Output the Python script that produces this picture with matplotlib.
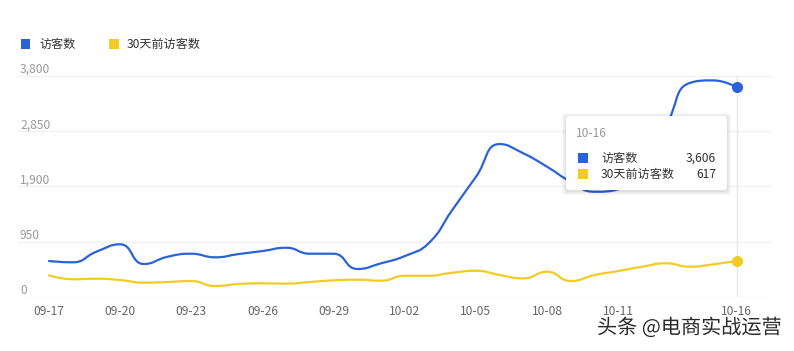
import numpy as np
import matplotlib
matplotlib.use("Agg")
import matplotlib.pyplot as plt
from matplotlib.path import Path
from matplotlib.patches import PathPatch, Rectangle, FancyBboxPatch
import matplotlib.transforms as mtransforms
import matplotlib.patheffects as pe

plt.rcParams['font.family'] = ['Noto Sans CJK SC', 'DejaVu Sans']

# data
dates = ['09-17', '09-18', '09-19', '09-20', '09-21', '09-22', '09-23', '09-24',
         '09-25', '09-26', '09-27', '09-28', '09-29', '09-30', '10-01', '10-02',
         '10-03', '10-04', '10-05', '10-06', '10-07', '10-08', '10-09', '10-10',
         '10-11', '10-12', '10-13', '10-14', '10-15', '10-16']
visitors = [614, 592, 775, 902, 563, 688, 740, 678, 735, 786, 843, 740, 740, 477, 575,
            700, 919, 1492, 2065, 2628, 2468, 2237, 1979, 1807, 1850, 2400, 2950, 3678,
            3724, 3606]
visitors_30d = [368, 300, 310, 287, 241, 253, 270, 184, 219, 230, 225, 253, 282, 293, 275,
                361, 361, 413, 447, 373, 316, 430, 270, 373, 442, 516, 575, 516, 557, 617]
tick_dates = ['09-17', '09-20', '09-23', '09-26', '09-29', '10-02', '10-05', '10-08',
              '10-11', '10-16']
y_ticks = [0, 950, 1900, 2850, 3800]
series_names = ['访客数', '30天前访客数']

BLUE = '#2a62d8'
YELLOW = '#f2cc24'
W, H = 794, 351
STEP = 23.72            # px per day
YPX = 55.2 / 950        # px per visitor


def fx(px):
    return px / W


def fy(py):
    return 1 - py / H


def clamp(v, a, b):
    return min(max(v, min(a, b)), max(a, b))


def smooth_path(xs, ys, smooth=0.5):
    """Bezier path with clamped control points, computed in pixel-like units."""
    pts = [(x * STEP, y * YPX) for x, y in zip(xs, ys)]
    n = len(pts)
    verts = [pts[0]]
    codes = [Path.MOVETO]
    cp0 = pts[0]
    for i in range(1, n):
        x, y = pts[i]
        if i == n - 1:
            verts += [cp0, (x, y), (x, y)]
            codes += [Path.CURVE4] * 3
            break
        px, py = pts[i - 1]
        nx, ny = pts[i + 1]
        vx, vy = nx - px, ny - py
        len_prev = np.hypot(x - px, y - py)
        len_next = np.hypot(nx - x, ny - y)
        ratio = len_next / (len_next + len_prev)
        c1x = clamp(x + vx * smooth * ratio, nx, x)
        c1y = clamp(y + vy * smooth * ratio, ny, y)
        vx, vy = c1x - x, c1y - y
        c0x = clamp(x - vx * len_prev / len_next, px, x)
        c0y = clamp(y - vy * len_prev / len_next, py, y)
        vx, vy = x - c0x, y - c0y
        c1x = x + vx * len_next / len_prev
        c1y = y + vy * len_next / len_prev
        verts += [cp0, (c0x, c0y), (x, y)]
        codes += [Path.CURVE4] * 3
        cp0 = (c1x, c1y)
    verts = [(vx_ / STEP, vy_ / YPX) for vx_, vy_ in verts]
    return Path(verts, codes)


fig = plt.figure(figsize=(W / 100, H / 100), dpi=100)
ax = fig.add_axes([fx(18), fy(296.7), fx(772) - fx(18), fy(76) - fy(296.7)])

idx = np.arange(len(dates))
ax.set_xlim((18 - 49) / STEP, (772 - 49) / STEP)
ax.set_ylim(0, 3800)

for s in ax.spines.values():
    s.set_visible(False)

# horizontal grid lines, labels sitting above them at the left
lab_tr = mtransforms.blended_transform_factory(fig.transFigure, ax.transData)
for v in y_ticks:
    ax.axhline(v, color='#f0f0f0', lw=1, zorder=0)
    ax.text(fx(20), v, format(v, ','), transform=lab_tr, ha='left', va='bottom',
            fontsize=8.7, color='#9a9a9a')
ax.set_yticks([])

# pointer line at the last day
ax.axvline(idx[-1], color='#e6e6e6', lw=1, zorder=1)

ax.add_patch(PathPatch(smooth_path(idx, visitors), fill=False,
                       edgecolor=BLUE, lw=1.6, zorder=3, capstyle='round'))
ax.add_patch(PathPatch(smooth_path(idx, visitors_30d), fill=False,
                       edgecolor=YELLOW, lw=1.6, zorder=3, capstyle='round'))
ax.plot(idx[-1], visitors[-1], 'o', color=BLUE, ms=7, zorder=4)
ax.plot(idx[-1], visitors_30d[-1], 'o', color=YELLOW, ms=7, zorder=4)

ax.set_xticks([dates.index(d) for d in tick_dates])
ax.set_xticklabels(tick_dates, fontsize=8.7, color='#666666')
ax.tick_params(axis='x', length=0, pad=6)

# legend
for (x0, tx), name, col in zip([(21, 39), (109, 127)], series_names, [BLUE, YELLOW]):
    fig.add_artist(Rectangle((fx(x0), fy(48.5)), 9.5 / W, 9 / H, transform=fig.transFigure,
                             facecolor=col, edgecolor='none'))
    fig.text(fx(tx), fy(44), name, fontsize=8.7, color='#333333', va='center', ha='left')

# tooltip box
bx0, by0, bx1, by1 = 566, 116, 727, 190
for off, a in [(4, 0.03), (2.5, 0.04), (1.2, 0.05)]:
    fig.add_artist(FancyBboxPatch((fx(bx0 - off), fy(by1 + off + 1)),
                                  (bx1 - bx0 + 2 * off) / W, (by1 - by0 + 2 * off) / H,
                                  boxstyle='round,pad=0,rounding_size=0.006',
                                  transform=fig.transFigure, facecolor='black',
                                  edgecolor='none', alpha=a, zorder=10))
fig.add_artist(FancyBboxPatch((fx(bx0), fy(by1)), (bx1 - bx0) / W, (by1 - by0) / H,
                              boxstyle='round,pad=0,rounding_size=0.006',
                              transform=fig.transFigure, facecolor='white',
                              edgecolor='none', zorder=11))
fig.text(fx(576), fy(133), dates[-1], fontsize=8.7, color='#999999', va='center',
         ha='left', zorder=12)
for ry, name, col, val in zip([158, 174], series_names, [BLUE, YELLOW],
                              [visitors[-1], visitors_30d[-1]]):
    fig.add_artist(Rectangle((fx(578), fy(ry + 5)), 10 / W, 10 / H, transform=fig.transFigure,
                             facecolor=col, edgecolor='none', zorder=12))
    fig.text(fx(601), fy(ry), name, fontsize=8.7, color='#333333', va='center', ha='left',
             zorder=12)
    fig.text(fx(716), fy(ry), format(val, ','), fontsize=8.7, color='#333333', va='center',
             ha='right', zorder=12)

# watermark
fig.text(fx(597), fy(328), '头条 @电商实战运营', fontsize=14.5, color='#2a2a2a',
         va='center', ha='left', zorder=13,
         path_effects=[pe.withStroke(linewidth=3, foreground='white')])

fig.savefig('out.png', dpi=100)
